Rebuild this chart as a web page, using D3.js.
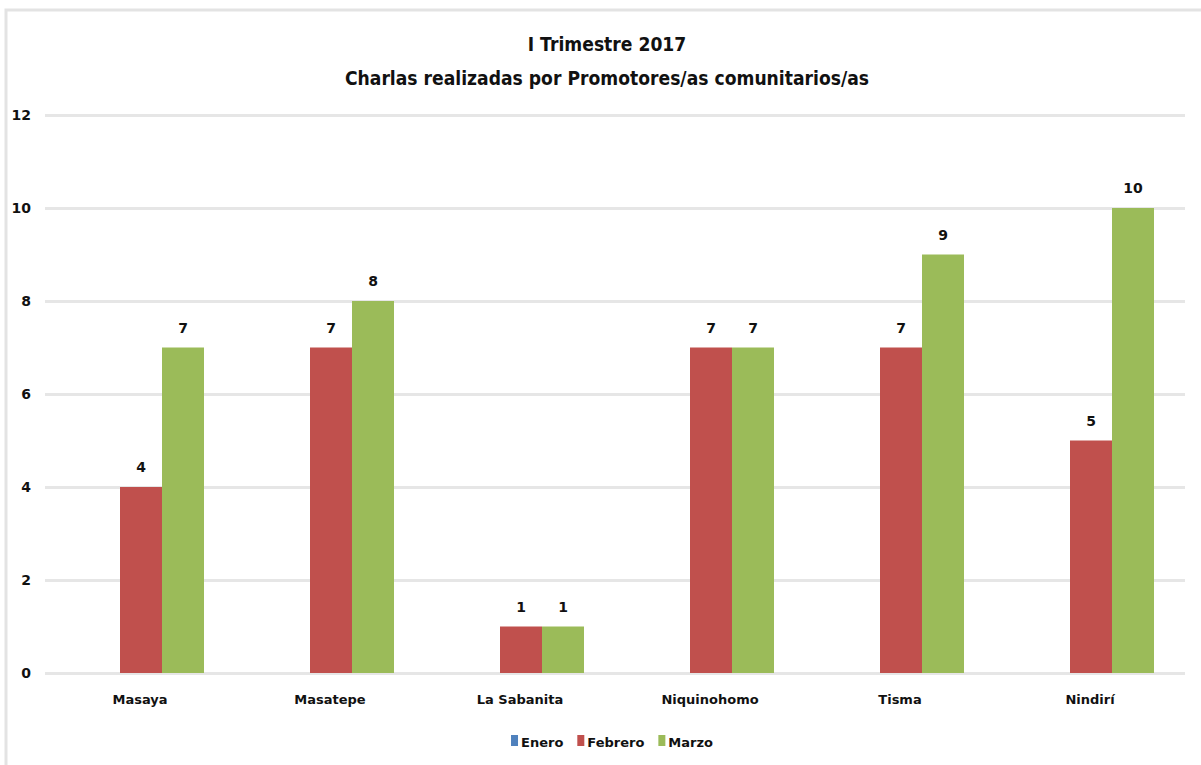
<!DOCTYPE html>
<html>
<head>
<meta charset="utf-8">
<script src="https://cdn.jsdelivr.net/npm/d3@7"></script>
<style>
  body { margin: 0; background: #fff; }
  text { font-family: "DejaVu Sans", sans-serif; font-weight: bold; fill: #111; }
</style>
</head>
<body>
<svg id="chart" width="1201" height="765"></svg>
<script>
var municipios = ["Masaya", "Masatepe", "La Sabanita", "Niquinohomo", "Tisma", "Nindirí"];
var meses = ["Enero", "Febrero", "Marzo"];
var enero = [0, 0, 0, 0, 0, 0];
var febrero = [4, 7, 1, 7, 7, 5];
var marzo = [7, 8, 1, 7, 9, 10];
var yTicks = [0, 2, 4, 6, 8, 10, 12];
var titulos = ["I Trimestre 2017", "Charlas realizadas por Promotores/as comunitarios/as"];
var colores = ["#4F81BD", "#C0504D", "#9BBB59"];

var series = [enero, febrero, marzo];
var svg = d3.select("#chart"),
    margin = {top: 115, right: 16, bottom: 92, left: 45},
    width = 1201 - margin.left - margin.right,
    height = 765 - margin.top - margin.bottom;

// marco del grafico
svg.append("rect")
  .attr("x", 6).attr("y", 10)
  .attr("width", 1240).attr("height", 800)
  .attr("fill", "none").attr("stroke", "#e3e3e3").attr("stroke-width", 3);

// titulo (fuente angosta: se comprime en horizontal)
titulos.forEach(function(t, i){
  svg.append("text")
    .attr("transform", "translate(607," + (51 + i * 34) + ") scale(0.86,1)")
    .attr("text-anchor", "middle")
    .style("font-size", "20px")
    .text(t);
});

var x0 = d3.scaleBand().domain(municipios).range([0, width]).paddingInner(0).paddingOuter(0);
var x1 = d3.scaleBand().domain(meses).range([32, x0.bandwidth() - 32]);
var y = d3.scaleLinear().domain([0, 12]).range([height, 0]);

var g = svg.append("g").attr("transform", "translate(" + margin.left + "," + margin.top + ")");

g.append("g")
  .attr("class", "grid")
  .call(d3.axisLeft(y).tickValues(yTicks).tickSize(-width).tickFormat(""))
  .call(function(s){ s.select(".domain").remove(); s.selectAll("line").attr("stroke", "#e6e6e6").attr("stroke-width", 3); });

g.append("g")
  .call(d3.axisLeft(y).tickValues(yTicks).tickSize(0).tickPadding(14))
  .call(function(s){ s.select(".domain").remove(); s.selectAll("text").style("font-size", "14px"); });

var grupos = g.selectAll(".grupo")
  .data(municipios)
  .enter().append("g")
  .attr("class", "grupo")
  .attr("transform", function(d){ return "translate(" + x0(d) + ",0)"; });

var datos = function(d, i){
  return meses.map(function(m, j){ return {mes: m, valor: series[j][i], color: colores[j]}; });
};

grupos.selectAll("rect")
  .data(datos)
  .enter().append("rect")
  .filter(function(d){ return d.valor > 0; })
  .attr("x", function(d){ return x1(d.mes) + 1; })
  .attr("y", function(d){ return y(d.valor); })
  .attr("width", x1.bandwidth())
  .attr("height", function(d){ return height - y(d.valor); })
  .attr("fill", function(d){ return d.color; });

grupos.selectAll(".label")
  .data(datos)
  .enter().append("text")
  .filter(function(d){ return d.valor > 0; })
  .attr("class", "label")
  .attr("x", function(d){ return x1(d.mes) + 1 + x1.bandwidth() / 2; })
  .attr("y", function(d){ return y(d.valor) - 15; })
  .attr("text-anchor", "middle")
  .style("font-size", "14px")
  .text(function(d){ return d.valor; });

g.append("g")
  .attr("transform", "translate(0," + height + ")")
  .call(d3.axisBottom(x0).tickSize(0).tickPadding(22))
  .call(function(s){ s.select(".domain").remove(); s.selectAll("text").style("font-size", "13px"); });

// leyenda centrada
var legend = svg.append("g");
var cursor = 0;
meses.forEach(function(m, i){
  legend.append("rect").attr("x", cursor).attr("y", 0).attr("width", 7).attr("height", 11).attr("fill", colores[i]);
  var t = legend.append("text").attr("x", cursor + 10).attr("y", 12).style("font-size", "13px").text(m);
  cursor += 10 + t.node().getComputedTextLength() + 14;
});
cursor -= 14;
legend.attr("transform", "translate(" + (612 - cursor / 2) + ",735)");
</script>
</body>
</html>
